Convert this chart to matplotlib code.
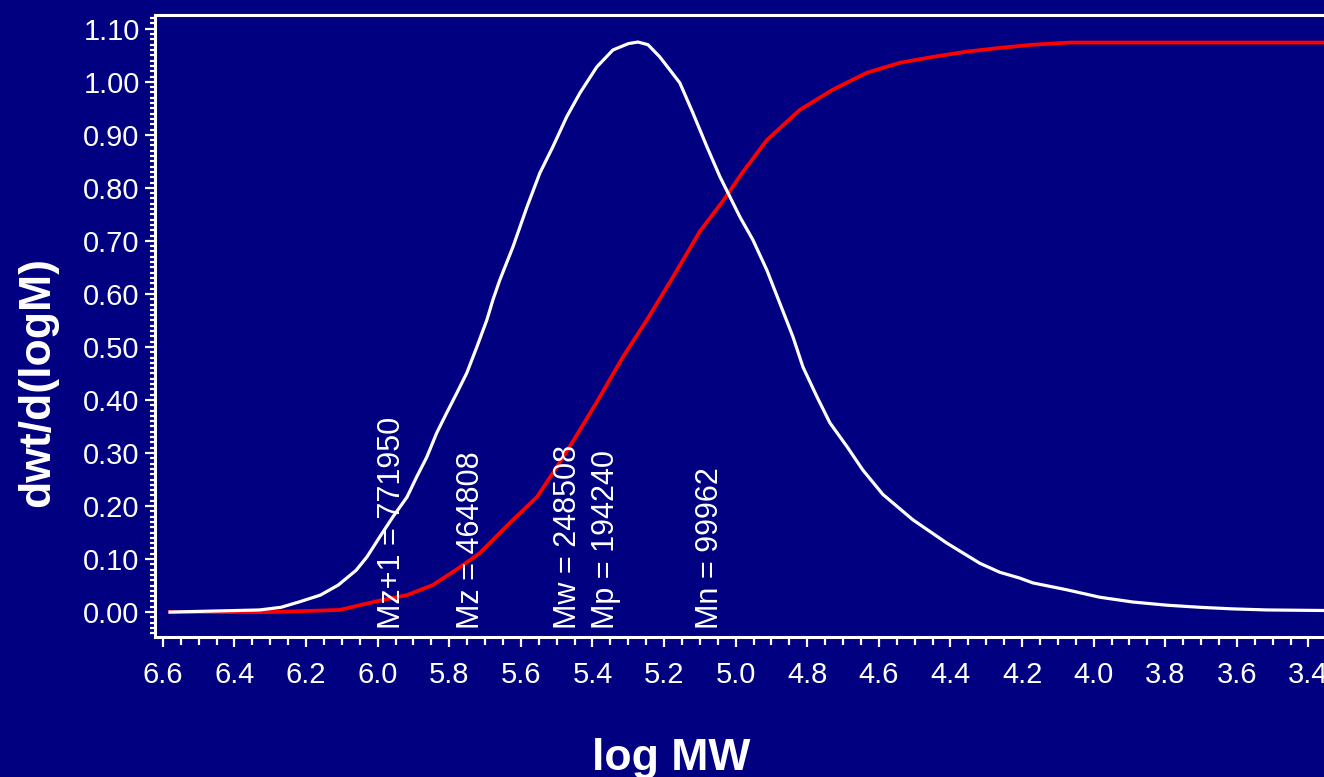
import numpy as np
import matplotlib
matplotlib.use("Agg")
import matplotlib.pyplot as plt
from matplotlib.ticker import MultipleLocator, FormatStrFormatter
import warnings
warnings.filterwarnings("ignore")

# ---- data ----
white_x = [6.58, 6.33, 6.27, 6.22, 6.16, 6.11, 6.06, 6.030, 5.994, 5.958, 5.918, 5.891,
           5.863, 5.835, 5.807, 5.779, 5.751, 5.723, 5.695, 5.678, 5.659, 5.622, 5.583,
           5.547, 5.511, 5.472, 5.435, 5.388, 5.343, 5.300, 5.273, 5.245, 5.212, 5.156,
           5.120, 5.080, 5.044, 5.016, 4.988, 4.952, 4.913, 4.877, 4.840, 4.812, 4.773,
           4.737, 4.689, 4.645, 4.589, 4.505, 4.410, 4.318, 4.262, 4.206, 4.170, 4.075,
           3.983, 3.891, 3.796, 3.703, 3.611, 3.516, 3.36]
white_y = [0.0, 0.004, 0.009, 0.019, 0.032, 0.051, 0.079, 0.104, 0.142, 0.179, 0.217, 0.255,
           0.292, 0.338, 0.376, 0.413, 0.451, 0.500, 0.551, 0.589, 0.626, 0.689, 0.764,
           0.828, 0.877, 0.934, 0.979, 1.028, 1.060, 1.072, 1.075, 1.070, 1.047, 0.998,
           0.942, 0.877, 0.821, 0.783, 0.745, 0.702, 0.645, 0.583, 0.519, 0.462, 0.406,
           0.357, 0.312, 0.268, 0.222, 0.174, 0.130, 0.092, 0.075, 0.064, 0.055, 0.042,
           0.028, 0.019, 0.013, 0.009, 0.006, 0.004, 0.003]

red_x = [6.58, 6.30, 6.106, 6.050, 5.985, 5.918, 5.846, 5.78, 5.715, 5.631, 5.555,
         5.499, 5.450, 5.388, 5.315, 5.248, 5.175, 5.100, 5.036, 4.980, 4.913,
         4.821, 4.729, 4.634, 4.541, 4.449, 4.354, 4.262, 4.170, 4.066, 3.891, 3.36]
red_y = [0.0, 0.0, 0.004, 0.013, 0.023, 0.032, 0.051, 0.080, 0.111, 0.168, 0.217,
         0.274, 0.327, 0.396, 0.481, 0.551, 0.632, 0.718, 0.775, 0.830, 0.890,
         0.947, 0.985, 1.017, 1.036, 1.047, 1.057, 1.064, 1.070, 1.074, 1.074, 1.074]

marker_names = ["Mz+1", "Mz", "Mw", "Mp", "Mn"]
marker_values = [771950, 464808, 248508, 194240, 99962]

x_ticks = [6.6, 6.4, 6.2, 6.0, 5.8, 5.6, 5.4, 5.2, 5.0, 4.8, 4.6, 4.4, 4.2, 4.0, 3.8, 3.6, 3.4]
y_ticks = [0.0, 0.1, 0.2, 0.3, 0.4, 0.5, 0.6, 0.7, 0.8, 0.9, 1.0, 1.1]

NAVY = "#000080"
W, H = 1324, 777
narrow = ["Liberation Sans Narrow", "Liberation Sans", "DejaVu Sans"]
boldfam = ["Liberation Sans", "DejaVu Sans"]

fig = plt.figure(figsize=(W / 100, H / 100), dpi=100, facecolor=NAVY)
ax_left, ax_right, ax_bot, ax_top = 155, 1340, 637, 15
ax = fig.add_axes([ax_left / W, (H - ax_bot) / H, (ax_right - ax_left) / W, (ax_bot - ax_top) / H])
ax.set_facecolor(NAVY)

ax.plot(red_x, red_y, color="#ff0000", lw=2.7, solid_joinstyle="round", zorder=3)
ax.plot(white_x, white_y, color="white", lw=2.3, solid_joinstyle="round", zorder=4)

ax.set_xlim(6.622, 3.312)
ax.set_ylim(-0.047, 1.126)

ax.set_xticks(x_ticks)
ax.set_yticks(y_ticks)
ax.xaxis.set_major_formatter(FormatStrFormatter("%.1f"))
ax.yaxis.set_major_formatter(FormatStrFormatter("%.2f"))
ax.xaxis.set_minor_locator(MultipleLocator(0.05))
ax.yaxis.set_minor_locator(MultipleLocator(0.01))

for s in ["left", "bottom", "top"]:
    ax.spines[s].set_color("white")
    ax.spines[s].set_linewidth(2.2)
ax.spines["right"].set_visible(False)

ax.tick_params(axis="both", which="both", direction="out", colors="white", width=1.6)
ax.tick_params(axis="x", which="major", length=7, pad=10)
ax.tick_params(axis="x", which="minor", length=6)
ax.tick_params(axis="y", which="major", length=7, pad=4)
ax.tick_params(axis="y", which="minor", length=3.5)
for lab in ax.get_xticklabels() + ax.get_yticklabels():
    lab.set_family(narrow)
    lab.set_fontsize(21)
    lab.set_color("white")

for name, val in zip(marker_names, marker_values):
    ax.annotate(f"{name} = {val}", xy=(np.log10(val), 0), xycoords=("data", "axes fraction"),
                xytext=(-8, 6), textcoords="offset points", rotation=90,
                ha="right", va="bottom", color="white", fontsize=22, family=narrow)

fig.text(671 / W, (H - 770) / H, "log MW", ha="center", va="baseline", color="white",
         fontsize=32, fontweight="bold", family=boldfam)
fig.text(38 / W, (H - 382) / H, "dwt/d(logM)", ha="center", va="center", rotation=90,
         color="white", fontsize=32, fontweight="bold", family=boldfam)

fig.savefig("out.png", dpi=100, facecolor=NAVY)
